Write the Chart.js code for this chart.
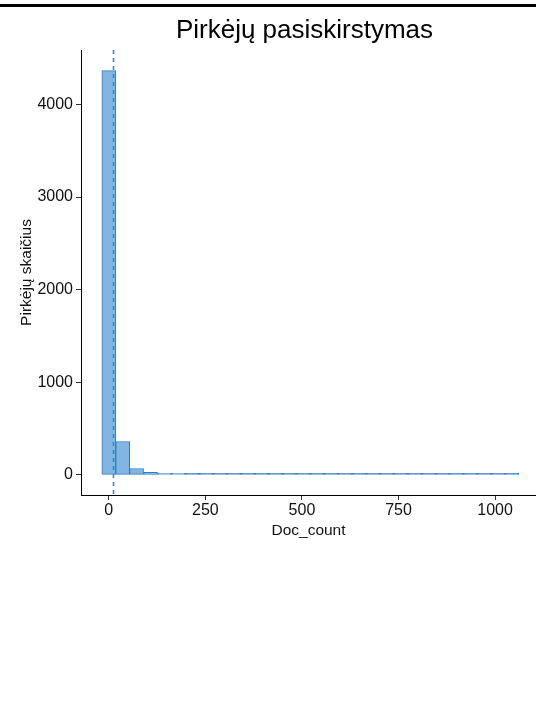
<!DOCTYPE html>
<html lang="lt">
<head>
<meta charset="utf-8">
<title>Pirkėjų pasiskirstymas</title>
<script src="https://cdn.jsdelivr.net/npm/chart.js@4/dist/chart.umd.min.js"></script>
<style>
  html, body { margin: 0; padding: 0; background: #ffffff; }
  #wrap { position: relative; width: 536px; height: 726px; }
  #topRule { position: absolute; left: 0; top: 4px; width: 536px; height: 3px; background: #000; }
  canvas { display: block; }
</style>
</head>
<body>
<div id="wrap">
  <canvas id="hist" width="536" height="726"></canvas>
  <div id="topRule"></div>
</div>
<script>
// Histogram bins (centres, bin width 36) and number of customers per bin
const binCenters = [0, 36, 72, 108, 144, 180, 216, 252, 288, 324,
                    360, 396, 432, 468, 504, 540, 576, 612, 648, 684,
                    720, 756, 792, 828, 864, 900, 936, 972, 1008, 1044];
const custCounts = [4365, 360, 68, 28, 14, 14, 4, 3, 2, 2,
                    1, 1, 1, 1, 1, 1, 1, 1, 1, 1,
                    1, 1, 1, 1, 1, 1, 1, 1, 1, 1];
const meanDocCount = 9.6;
const xTickValues = [0, 250, 500, 750, 1000];
const yTickValues = [0, 1000, 2000, 3000, 4000];
const chartTitle = 'Pirkėjų pasiskirstymas';

const FILL = '#82b6e0';
const EDGE = '#2a7ec6';

Chart.defaults.font.family = "'Liberation Sans', Arial, sans-serif";
Chart.defaults.color = '#111';

// Dashed vertical line at the mean
const meanLine = {
  id: 'meanLine',
  afterDatasetsDraw(chart) {
    const { ctx, chartArea, scales } = chart;
    const x = Math.round(scales.x.getPixelForValue(meanDocCount)) + 0.5;
    ctx.save();
    ctx.strokeStyle = '#1888e8';
    ctx.lineWidth = 1.5;
    ctx.setLineDash([4, 4]);
    ctx.beginPath();
    ctx.moveTo(x, chartArea.top);
    ctx.lineTo(x, chartArea.bottom);
    ctx.stroke();
    ctx.restore();
  }
};

// Title centred over the plotting panel
const panelTitle = {
  id: 'panelTitle',
  afterDraw(chart) {
    const { ctx, chartArea } = chart;
    ctx.save();
    ctx.font = "26px 'Liberation Sans', Arial, sans-serif";
    ctx.fillStyle = '#000';
    ctx.textAlign = 'center';
    ctx.textBaseline = 'alphabetic';
    ctx.fillText(chartTitle, (chartArea.left + chartArea.right) / 2 - 4, 38);
    ctx.restore();
  }
};

const points = binCenters.map((c, i) => ({ x: c, y: custCounts[i] }));
const noSep = v => String(v);

new Chart(document.getElementById('hist'), {
  type: 'bar',
  data: {
    datasets: [{
      data: points,
      backgroundColor: ctx => (ctx.raw && ctx.raw.y < 10 ? EDGE : FILL),
      borderColor: EDGE,
      borderWidth: 1,
      borderSkipped: false,
      minBarLength: 1.5,
      barPercentage: 1,
      categoryPercentage: 1
    }]
  },
  plugins: [meanLine, panelTitle],
  options: {
    responsive: false,
    animation: false,
    layout: { padding: { left: 0, right: 0, top: 50, bottom: 171 } },
    plugins: {
      legend: { display: false },
      tooltip: { enabled: false },
      title: { display: false }
    },
    scales: {
      x: {
        type: 'linear',
        min: -72,
        max: 1106,
        offset: false,
        afterFit(scale) { scale.height = 60; },
        afterBuildTicks(scale) { scale.ticks = xTickValues.map(v => ({ value: v })); },
        grid: { display: true, drawOnChartArea: false, drawTicks: true, tickLength: 5, color: '#333', offset: false },
        border: { display: true, color: '#000', width: 1 },
        ticks: { font: { size: 16 }, color: '#111', padding: 1, maxRotation: 0, callback: noSep },
        title: { display: true, text: 'Doc_count', color: '#111', font: { size: 15.5 }, padding: { top: 0, bottom: 15 } }
      },
      y: {
        type: 'linear',
        min: -218,
        max: 4588,
        afterFit(scale) { scale.width = 81; },
        afterBuildTicks(scale) { scale.ticks = yTickValues.map(v => ({ value: v })); },
        grid: { display: true, drawOnChartArea: false, drawTicks: true, tickLength: 5, color: '#333' },
        border: { display: true, color: '#000', width: 1 },
        ticks: { font: { size: 16 }, color: '#111', padding: 3, callback: noSep },
        title: { display: true, text: 'Pirkėjų skaičius', color: '#111', font: { size: 15.5 }, padding: { top: 17, bottom: 0 } }
      }
    }
  }
});
</script>
</body>
</html>
